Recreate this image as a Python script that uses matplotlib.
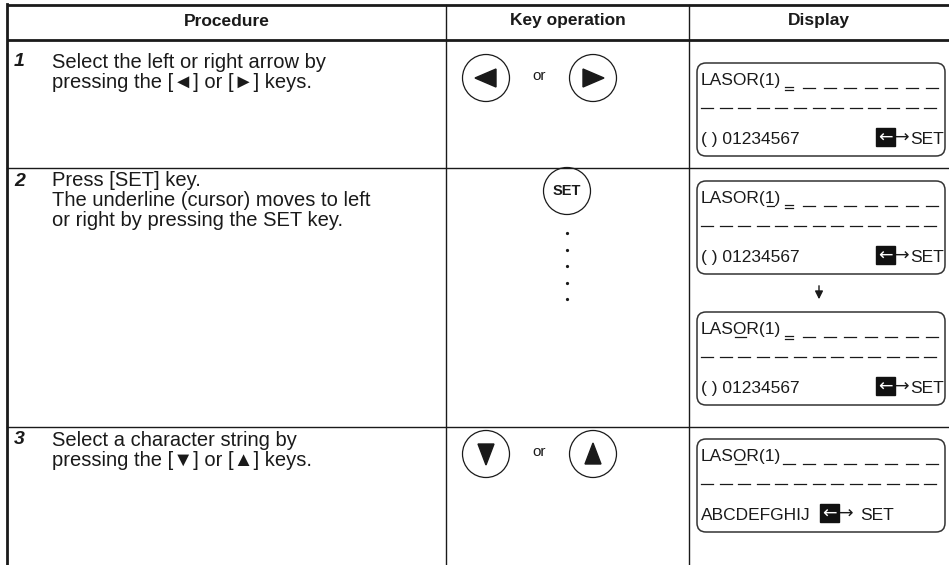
import matplotlib
matplotlib.use('Agg')
import matplotlib.pyplot as plt
from matplotlib.patches import Circle, Polygon, FancyBboxPatch, Rectangle
from matplotlib.font_manager import FontProperties, fontManager

plt.rcParams['font.family'] = ['Liberation Sans', 'DejaVu Sans']

# table content
headers = ['Procedure', 'Key operation', 'Display']
step_nums = ['1', '2', '3']
step_lines = [
    ['Select the left or right arrow by', 'pressing the [\u25c4] or [\u25ba] keys.'],
    ['Press [SET] key.', 'The underline (cursor) moves to left', 'or right by pressing the SET key.'],
    ['Select a character string by', 'pressing the [\u25bc] or [\u25b2] keys.'],
]
key_pairs = [('left', 'right'), None, ('down', 'up')]

# LCD display screens
lcd_line1 = ['LASOR(1)', 'LASOR(1)', 'LASOR(1)', 'LASOR(1)']
lcd_cursor = [True, True, True, False]
lcd_underline = [None, 6, 3, 3]          # index of underlined character
lcd_line3 = ['( ) 01234567', '( ) 01234567', '( ) 01234567', 'ABCDEFGHIJ']
lcd_set = ['SET', 'SET', 'SET', 'SET']

W, H = 949, 565
fig = plt.figure(figsize=(W / 100, H / 100), dpi=100)
ax = fig.add_axes([0, 0, 1, 1])
ax.set_xlim(0, W)
ax.set_ylim(H, 0)
ax.axis('off')

ink = '#1a1a1a'
xl, xs1, xs2 = 7, 446, 689
y_top, y_head = 5, 40
row_edges = [40, 168, 427, H]

# grid
ax.plot([xl, W], [y_top, y_top], color=ink, lw=2.0, solid_capstyle='butt')
ax.plot([xl, W], [y_head, y_head], color=ink, lw=2.0, solid_capstyle='butt')
ax.plot([xl, xl], [y_top - 1, H], color=ink, lw=2.0)
for xx in (xs1, xs2):
    ax.plot([xx, xx], [y_top, H], color=ink, lw=1.0)
for yy in row_edges[1:-1]:
    ax.plot([xl, W], [yy, yy], color=ink, lw=1.0)

names = {f.name for f in fontManager.ttflist}
if 'Liberation Sans Narrow' in names:
    head_fp = FontProperties(family=['Liberation Sans Narrow', 'DejaVu Sans'], weight='bold', size=14.5)
    fp = FontProperties(family=['Liberation Sans Narrow', 'DejaVu Sans'], size=15)
else:
    head_fp = FontProperties(family=['Liberation Sans', 'DejaVu Sans'], weight='bold', size=12.5)
    fp = FontProperties(family=['Liberation Sans', 'DejaVu Sans'], size=12.5)
arrow_fp = FontProperties(family=['DejaVu Sans'], size=12.5)

# header
head_x = [(xl + xs1) / 2, (xs1 + xs2) / 2, (xs2 + W) / 2]
for hx, h in zip(head_x, headers):
    ax.text(hx, 21, h, ha='center', va='center', fontproperties=head_fp, color=ink)

# procedure column
line_gap = 20
for i, (num, lines) in enumerate(zip(step_nums, step_lines)):
    y0 = row_edges[i] + (22 if i == 0 else 13)
    ax.text(14, y0, num, ha='left', va='center', fontsize=14, fontweight='bold',
            fontstyle='italic', color=ink)
    for j, s in enumerate(lines):
        ax.text(52, y0 + j * line_gap, s, ha='left', va='center', fontsize=14.5, color=ink)


def key(cx, cy, kind):
    ax.add_patch(Circle((cx, cy), 23.5, facecolor='white', edgecolor=ink, lw=0.9))
    if kind == 'left':
        pts = [(cx - 11, cy), (cx + 10, cy - 9), (cx + 10, cy + 9)]
    elif kind == 'right':
        pts = [(cx + 11, cy), (cx - 10, cy - 9), (cx - 10, cy + 9)]
    elif kind == 'down':
        pts = [(cx, cy + 11), (cx - 8, cy - 10), (cx + 8, cy - 10)]
    elif kind == 'up':
        pts = [(cx, cy - 11), (cx - 8, cy + 10), (cx + 8, cy + 10)]
    else:
        ax.text(cx, cy, kind, ha='center', va='center', fontsize=10.5,
                fontweight='bold', color=ink)
        return
    ax.add_patch(Polygon(pts, closed=True, color=ink))


kx1, kx2 = 486, 593
key_cy = [78, None, 454]
for i, kp in enumerate(key_pairs):
    if kp is None:
        continue
    cy = key_cy[i]
    key(kx1, cy, kp[0])
    key(kx2, cy, kp[1])
    ax.text((kx1 + kx2) / 2, cy - 2, 'or', ha='center', va='center', fontsize=11, color=ink)

key(567, 191, 'SET')
ax.plot([567] * 5, [233, 250, 266, 283, 299], 'o', color=ink, ms=1.3)

# display column
renderer = fig.canvas.get_renderer()


def text_w(s):
    w, h, d = renderer.get_text_width_height_descent(s, fp, ismath=False)
    return w


bx0, bx1 = 697, 945
box_tops = [63, 181, 312, 439]
box_h = 93
dash_len = 12
for k, top in enumerate(box_tops):
    ax.add_patch(FancyBboxPatch((bx0, top), bx1 - bx0, box_h,
                                boxstyle='round,pad=0,rounding_size=9',
                                facecolor='white', edgecolor='#333333', lw=1.1))
    tx = bx0 + 4
    base1 = top + 22
    ax.text(tx, base1, lcd_line1[k], ha='left', va='baseline', fontproperties=fp, color=ink)
    u = lcd_underline[k]
    if u is not None:
        s = lcd_line1[k]
        ux0 = tx + text_w(s[:u]) + 1
        ux1 = tx + text_w(s[:u + 1]) - 1
        ax.plot([ux0, ux1], [base1 + 3, base1 + 3], color=ink, lw=0.9)
    # row 1 cells: cursor + dashes
    for c in range(8):
        cx = 789 + c * 20.5
        if c == 0 and lcd_cursor[k]:
            ax.plot([cx - 4, cx + 4], [top + 23.5, top + 23.5], color=ink, lw=0.9)
            ax.plot([cx - 4, cx + 4], [top + 26.5, top + 26.5], color=ink, lw=0.9)
        else:
            ax.plot([cx - dash_len / 2, cx + dash_len / 2], [top + 25, top + 25], color=ink, lw=0.9)
    # row 2 dashes
    for c in range(13):
        cx = 707 + c * 18.6
        ax.plot([cx - dash_len / 2, cx + dash_len / 2], [top + 45, top + 45], color=ink, lw=0.9)
    # row 3
    base3 = top + 81
    ax.text(tx, base3, lcd_line3[k], ha='left', va='baseline', fontproperties=fp, color=ink)
    hx0 = 876 if k < 3 else 820
    ax.add_patch(Rectangle((hx0, top + 65), 19, 18, color='#111111'))
    ax.text(hx0 + 9.5, base3 - 6.5, '\u2190', ha='center', va='center', fontproperties=arrow_fp, color='white')
    ax.text(hx0 + 19, base3 - 6.5, '\u2192', ha='left', va='center', fontproperties=arrow_fp, color=ink)
    ax.text(hx0 + 34 + (6 if k == 3 else 0), base3, lcd_set[k],
            ha='left', va='baseline', fontproperties=fp, color=ink)

# arrow between the two screens of step 2
ax.annotate('', xy=(819, 302), xytext=(819, 283),
            arrowprops=dict(arrowstyle='-|>', color=ink, lw=1.0, mutation_scale=12))

fig.savefig('out.png', dpi=100)
